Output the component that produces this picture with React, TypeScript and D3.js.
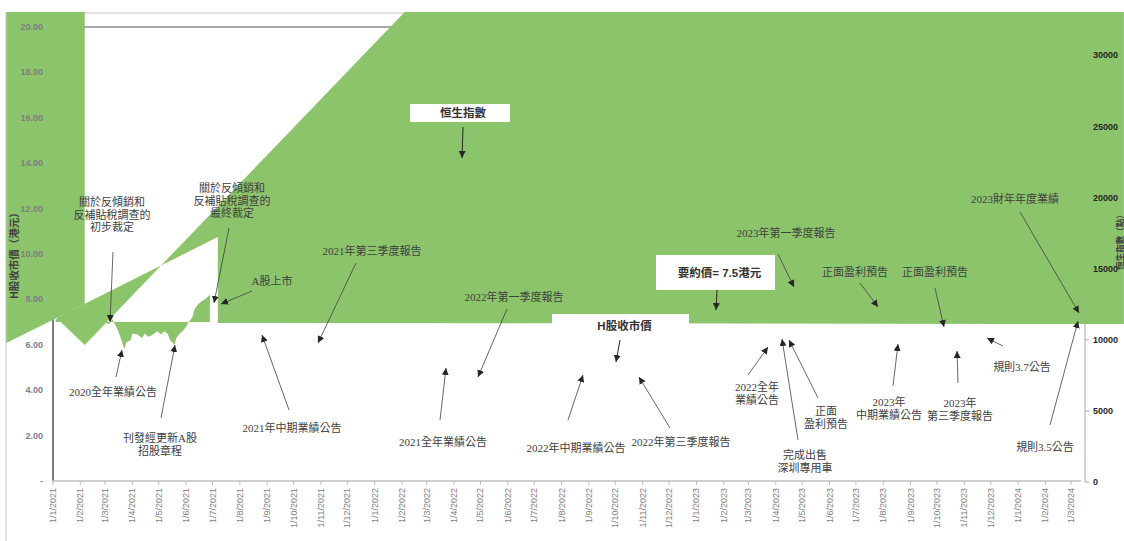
import React from "react";
import * as d3 from "d3";

// ---------- data ----------
const leftTicks = [0, 2, 4, 6, 8, 10, 12, 14, 16, 18, 20];
const rightTicks = [0, 5000, 10000, 15000, 20000, 25000, 30000];

// H-share closing price (HK$)
const priceDates = [
  "2021-01-04", "2021-01-08", "2021-01-13", "2021-01-18", "2021-01-21", "2021-01-25", "2021-01-29",
  "2021-02-03", "2021-02-08", "2021-02-12", "2021-02-18", "2021-02-21", "2021-02-26", "2021-03-03",
  "2021-03-06", "2021-03-09", "2021-03-15", "2021-03-18", "2021-03-23", "2021-03-25", "2021-03-30",
  "2021-04-01", "2021-04-07", "2021-04-12", "2021-04-15", "2021-04-19", "2021-04-22", "2021-04-26",
  "2021-04-29", "2021-05-04", "2021-05-07", "2021-05-11", "2021-05-14", "2021-05-19", "2021-05-21",
  "2021-05-25", "2021-05-28", "2021-06-01", "2021-06-04", "2021-06-08", "2021-06-11", "2021-06-15",
  "2021-06-18", "2021-06-22", "2021-06-25", "2021-06-28",
];
const priceValues = [
  7.1, 7.2, 7.3, 7.6, 8.0, 7.3, 7.2,
  7.25, 7.4, 7.1, 7.0, 7.3, 7.05, 6.95,
  6.9, 7.15, 6.7, 6.4, 5.8, 6.1, 6.2,
  6.5, 6.45, 6.3, 6.5, 6.35, 6.4, 6.5,
  6.6, 6.45, 6.6, 6.5, 6.2, 6.0, 6.3,
  6.5, 6.6, 6.8, 7.0, 7.2, 7.6, 7.8,
  7.9, 8.0, 8.1, 8.2,
];
const priceBase = 7.0;

// Hang Seng index area (as rendered, with its broken outline)
const hsiDates = ["2021-01-05", "2021-07-07", "2021-07-07", "2024-04-30", "2024-04-30", "2022-02-04", "2021-02-06"];
const hsiValues = [11534, 17231, 11182, 11112, 33055, 33055, 9635];
const stripDates = ["2020-11-09", "2021-02-06", "2021-02-06", "2020-11-09"];
const stripValues = [33055, 33055, 12518, 9776];

// ---------- annotations (layout) ----------
type Ann = { lines: string[]; tx: number; ty: number; from: [number, number]; to: [number, number] };
const annotations: Ann[] = [
  { lines: ["關於反傾銷和", "反補貼稅調查的", "初步裁定"], tx: 112, ty: 202, from: [113, 252], to: [110, 322] },
  { lines: ["關於反傾銷和", "反補貼稅調查的", "最終裁定"], tx: 232, ty: 188, from: [229, 228], to: [214, 303] },
  { lines: ["A股上市"], tx: 272, ty: 281, from: [252, 291], to: [221, 304] },
  { lines: ["2021年第三季度報告"], tx: 372, ty: 251, from: [356, 263], to: [318, 343] },
  { lines: ["2022年第一季度報告"], tx: 514, ty: 297, from: [507, 309], to: [478, 377] },
  { lines: ["2023年第一季度報告"], tx: 786, ty: 233, from: [778, 254], to: [794, 287] },
  { lines: ["正面盈利預告"], tx: 855, ty: 272, from: [860, 283], to: [878, 307] },
  { lines: ["正面盈利預告"], tx: 935, ty: 272, from: [935, 288], to: [944, 327] },
  { lines: ["2023財年年度業績"], tx: 1015, ty: 199, from: [1020, 212], to: [1079, 313] },
  { lines: ["規則3.5公告"], tx: 1045, ty: 447, from: [1050, 425], to: [1078, 321] },
  { lines: ["規則3.7公告"], tx: 1022, ty: 367, from: [1003, 346], to: [987, 338] },
  { lines: ["2023年", "第三季度報告"], tx: 960, ty: 403, from: [958, 383], to: [957, 351] },
  { lines: ["2023年", "中期業績公告"], tx: 889, ty: 402, from: [893, 386], to: [898, 344] },
  { lines: ["正面", "盈利預告"], tx: 826, ty: 411, from: [818, 398], to: [789, 340] },
  { lines: ["完成出售", "深圳專用車"], tx: 805, ty: 455, from: [798, 440], to: [782, 339] },
  { lines: ["2022全年", "業績公告"], tx: 757, ty: 387, from: [748, 375], to: [768, 347] },
  { lines: ["2022年第三季度報告"], tx: 681, ty: 442, from: [670, 428], to: [639, 377] },
  { lines: ["2022年中期業績公告"], tx: 576, ty: 448, from: [568, 420], to: [583, 375] },
  { lines: ["2021全年業績公告"], tx: 443, ty: 442, from: [440, 420], to: [446, 368] },
  { lines: ["2021年中期業績公告"], tx: 292, ty: 428, from: [289, 410], to: [262, 335] },
  { lines: ["2020全年業績公告"], tx: 113, ty: 392, from: [116, 377], to: [122, 350] },
  { lines: ["刊發經更新A股", "招股章程"], tx: 160, ty: 438, from: [161, 418], to: [175, 345] },
];

type Box = { text: string; x: number; y: number; w: number; h: number; from: [number, number]; to: [number, number] };
const boxes: Box[] = [
  { text: "恒生指數", x: 410, y: 104, w: 100, h: 18, from: [463, 127], to: [462, 158] },
  { text: "要約價= 7.5港元", x: 656, y: 255, w: 119, h: 35, from: [717, 290], to: [716, 310] },
  { text: "H股收市價", x: 552, y: 314, w: 137, h: 30, from: [620, 340], to: [616, 362] },
];

const GREEN = "#8cc46b";
const parse = (s: string) => new Date(s + "T00:00:00");

export default function App() {
  const x = d3.scaleTime().domain([new Date(2021, 0, 1), new Date(2024, 2, 1)]).range([53, 1071]);
  const yL = d3.scaleLinear().domain([0, 20]).range([481, 27]);
  const yR = d3.scaleLinear().domain([0, 32000]).range([482, 27]);

  const months = d3.timeMonth.range(new Date(2021, 0, 1), new Date(2024, 2, 2));
  const monthLabel = (d: Date) => `1/${d.getMonth() + 1}/${d.getFullYear()}`;

  const poly = (ds: string[], vs: number[]) =>
    "M" + ds.map((s, i) => `${x(parse(s))},${yR(vs[i])}`).join("L") + "Z";

  const priceData = priceDates.map((s, i) => ({ d: parse(s), v: priceValues[i] }));
  const area = d3
    .area<{ d: Date; v: number }>()
    .x((p) => x(p.d))
    .y0(yL(priceBase))
    .y1((p) => yL(p.v));

  const annFont = "'Liberation Serif', 'Noto Sans CJK TC', serif";
  const sansFont = "'Liberation Sans', Arial, 'Noto Sans CJK TC', sans-serif";

  return (
    <svg
      width={1124}
      height={541}
      style={{ position: "absolute", left: 0, top: 0, background: "#fff" }}
      xmlns="http://www.w3.org/2000/svg"
    >
      <defs>
        <marker id="arr" viewBox="0 0 10 10" refX="10" refY="5" markerWidth="7" markerHeight="7" markerUnits="userSpaceOnUse" orient="auto">
          <path d="M0,0L10,5L0,10Z" fill="#262626" />
        </marker>
      </defs>
      {/* chart border */}
      <line x1={6} y1={13} x2={1124} y2={13} stroke="#d9d9d9" strokeWidth={1.5} />
      <line x1={6} y1={13} x2={6} y2={541} stroke="#d9d9d9" strokeWidth={1.5} />
      {/* plot top */}
      <line x1={53} y1={yL(20)} x2={1085} y2={yL(20)} stroke="#8c8c8c" strokeWidth={1.5} />
      {/* right axis */}
      <line x1={1085} y1={yR(32000)} x2={1085} y2={yR(0)} stroke="#a6a6a6" strokeWidth={1} />
      {rightTicks.map((t) => (
        <line key={t} x1={1085} x2={1089} y1={yR(t)} y2={yR(t)} stroke="#a6a6a6" />
      ))}
      {/* green HSI area */}
      <path d={poly(stripDates, stripValues)} fill={GREEN} />
      <path d={poly(hsiDates, hsiValues)} fill={GREEN} fillRule="evenodd" />
      {/* H-share area */}
      <path d={area(priceData) || ""} fill={GREEN} />
      <line x1={x(new Date(2021, 0, 1))} x2={x(new Date(2021, 0, 1))} y1={yL(0)} y2={yL(priceValues[0])} stroke="#262626" strokeWidth={1.2} />
      {/* x axis */}
      <line x1={52} x2={1081} y1={yL(0)} y2={yL(0)} stroke="#bfbfbf" strokeWidth={1.5} />
      {months.map((m, i) => (
        <g key={i}>
          <line x1={x(m)} x2={x(m)} y1={yL(0)} y2={yL(0) + 4} stroke="#bfbfbf" />
          <text
            transform={`translate(${x(m) + 3},${yL(0) + 7}) rotate(-90)`}
            textAnchor="end"
            fontSize={9}
            fontFamily={sansFont}
            fill="#7f7f7f"
          >
            {monthLabel(m)}
          </text>
        </g>
      ))}
      {/* left ticks */}
      {leftTicks.map((t) => (
        <text key={t} x={43} y={yL(t) + 3} textAnchor="end" fontSize={9} fontWeight="bold" fontFamily={sansFont} fill="#7f7f7f">
          {t === 0 ? "-" : t.toFixed(2)}
        </text>
      ))}
      {/* right ticks */}
      {rightTicks.map((t) => (
        <text key={t} x={1093} y={yR(t) + 3} fontSize={9} fontWeight="bold" fontFamily={sansFont} fill="#262626">
          {t}
        </text>
      ))}
      {/* axis titles */}
      <text transform="translate(18,253) rotate(-90)" textAnchor="middle" fontSize={10.5} fontWeight="bold" fontFamily={sansFont} fill="#404040">
        H股收市價（港元）
      </text>
      <text transform="translate(1123,240) rotate(-90)" textAnchor="middle" fontSize={8.5} fontWeight="bold" fontFamily={sansFont} fill="#404040">
        恒生指數（點）
      </text>
      {/* boxed labels */}
      {boxes.map((b, i) => (
        <g key={i}>
          <rect x={b.x} y={b.y} width={b.w} height={b.h} fill="#fff" />
          <text x={b.x + b.w / 2 + (i === 0 ? 3 : 4)} y={i === 2 ? b.y + 16 : b.y + b.h / 2 + 4} textAnchor="middle" fontSize={11.5} fontWeight="bold" fontFamily={sansFont} fill="#333">
            {b.text}
          </text>
          <line x1={b.from[0]} y1={b.from[1]} x2={b.to[0]} y2={b.to[1]} stroke="#262626" strokeWidth={1} markerEnd="url(#arr)" />
        </g>
      ))}
      {/* annotations */}
      {annotations.map((a, i) => (
        <g key={i}>
          {a.lines.map((l, j) => (
            <text key={j} x={a.tx} y={a.ty + j * 12.5 + 4} textAnchor="middle" fontSize={11} fontFamily={annFont} fill="#404040">
              {l}
            </text>
          ))}
          <line x1={a.from[0]} y1={a.from[1]} x2={a.to[0]} y2={a.to[1]} stroke="#404040" strokeWidth={0.8} markerEnd="url(#arr)" />
        </g>
      ))}
    </svg>
  );
}
